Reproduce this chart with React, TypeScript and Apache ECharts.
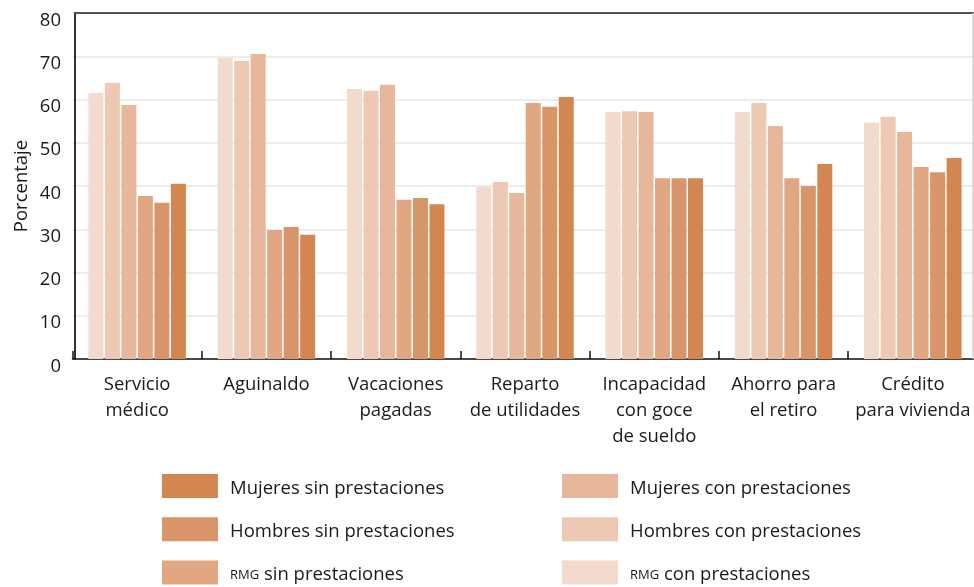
import React, { useEffect, useRef } from "react";
import * as echarts from "echarts";

const categories = [
  "Servicio\nmédico",
  "Aguinaldo",
  "Vacaciones\npagadas",
  "Reparto\nde utilidades",
  "Incapacidad\ncon goce\nde sueldo",
  "Ahorro para\nel retiro",
  "Crédito\npara vivienda",
];

const seriesNames = [
  "RMG con prestaciones",
  "Hombres con prestaciones",
  "Mujeres con prestaciones",
  "RMG sin prestaciones",
  "Hombres sin prestaciones",
  "Mujeres sin prestaciones",
];

const rmgCon = [61.5, 69.6, 62.4, 39.8, 57.1, 57.1, 54.6];
const hombresCon = [63.8, 68.9, 62.0, 40.9, 57.3, 59.2, 56.0];
const mujeresCon = [58.7, 70.5, 63.4, 38.4, 57.1, 53.9, 52.5];
const rmgSin = [37.7, 29.8, 36.8, 59.2, 41.8, 41.8, 44.4];
const hombresSin = [36.1, 30.5, 37.2, 58.3, 41.8, 40.0, 43.2];
const mujeresSin = [40.5, 28.7, 35.8, 60.6, 41.8, 45.1, 46.5];

const yTicks = [0, 10, 20, 30, 40, 50, 60, 70, 80];

const colors = ["#F2DACC", "#EDC9B3", "#E6B79A", "#E0A782", "#D8956A", "#D3864F"];

// legend layout: [series index, column, row]
const legendSlots = [
  [5, 0, 0],
  [4, 0, 1],
  [3, 0, 2],
  [2, 1, 0],
  [1, 1, 1],
  [0, 1, 2],
];

const FONT = "'Open Sans', sans-serif";
const FS = 18.5;
const TXT = "#1a1a1a";

export default function App() {
  const ref = useRef<HTMLDivElement>(null);

  useEffect(() => {
    if (!ref.current) return;
    const chart = echarts.init(ref.current, undefined, { renderer: "svg" });
    const values = [rmgCon, hombresCon, mujeresCon, rmgSin, hombresSin, mujeresSin];

    const legendFormatter = (name: string) =>
      name.startsWith("RMG")
        ? "{s|RMG} {n|" + name.slice(4) + "}"
        : "{n|" + name + "}";

    const legends = legendSlots.map(([si, col, row]) => ({
      orient: "horizontal",
      left: col === 0 ? 162 : 562,
      top: 474 + row * 43.3,
      padding: 0,
      itemWidth: 56,
      itemHeight: 24,
      icon: "rect",
      selectedMode: false,
      data: [seriesNames[si]],
      formatter: legendFormatter,
      textStyle: {
        color: TXT,
        fontFamily: FONT,
        fontSize: FS,
        padding: [0, 0, 0, 7],
        rich: {
          s: { fontSize: 13, fontFamily: FONT, color: TXT, padding: [3, 0, 0, 0] },
          n: { fontSize: FS, fontFamily: FONT, color: TXT },
        },
      },
    }));

    chart.setOption({
      animation: false,
      textStyle: { fontFamily: FONT },
      grid: {
        left: 72.5,
        top: 13,
        width: 905,
        height: 346,
        containLabel: false,
        outerBoundsMode: "none",
      },
      xAxis: {
        type: "category",
        data: categories,
        axisLine: { show: true, lineStyle: { color: "#111", width: 1.5 } },
        axisTick: { show: true, inside: true, length: 8, lineStyle: { color: "#111", width: 1.5 } },
        axisLabel: {
          color: TXT,
          fontFamily: FONT,
          fontSize: FS,
          lineHeight: 26,
          margin: 10,
          interval: 0,
        },
        splitLine: { show: false },
      },
      yAxis: {
        type: "value",
        min: 0,
        max: 80,
        interval: 10,
        offset: -2.5,
        name: "Porcentaje",
        nameLocation: "middle",
        nameRotate: 90,
        nameGap: 45,
        nameTextStyle: { color: TXT, fontFamily: FONT, fontSize: FS },
        axisLine: { show: true, lineStyle: { color: "#333", width: 2 } },
        axisTick: { show: false },
        axisLabel: {
          color: TXT,
          fontFamily: FONT,
          fontSize: FS,
          margin: 14,
          verticalAlign: "top",
          lineHeight: 10,
          formatter: (v: number) => (yTicks.includes(v) ? String(v) : ""),
        },
        splitLine: { show: true, lineStyle: { color: "#e6e6e6", width: 1.5 } },
      },
      legend: legends,
      graphic: [
        {
          type: "line",
          shape: { x1: 74, y1: 13, x2: 974, y2: 13 },
          style: { stroke: "#555", lineWidth: 2 },
          z: 100,
        },
        {
          type: "line",
          shape: { x1: 973, y1: 13, x2: 973, y2: 359 },
          style: { stroke: "#cfcfcf", lineWidth: 1.5 },
          z: 100,
        },
      ],
      series: seriesNames.map((name, i) => ({
        name,
        type: "bar",
        data: values[i],
        barWidth: 15,
        barGap: "10%",
        itemStyle: { color: colors[i] },
        emphasis: { disabled: true },
      })),
    });

    return () => chart.dispose();
  }, []);

  return (
    <div
      ref={ref}
      style={{ position: "fixed", left: 0, top: 0, width: 974, height: 587 }}
    />
  );
}
